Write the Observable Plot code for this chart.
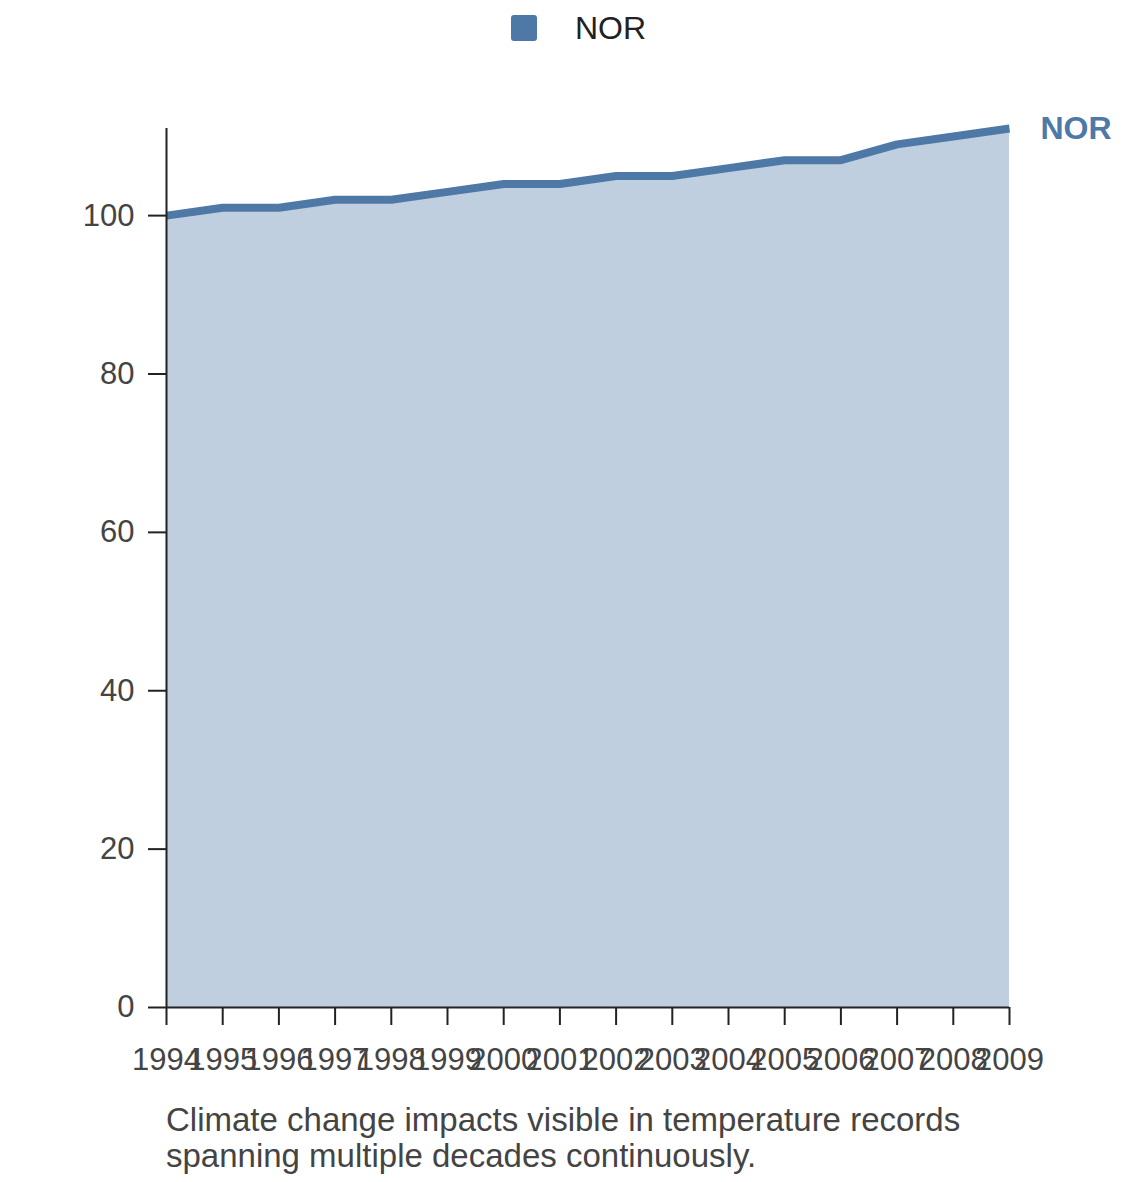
<!DOCTYPE html>
<html>
<head>
<meta charset="utf-8">
<script src="https://cdn.jsdelivr.net/npm/d3@7"></script>
<script src="https://cdn.jsdelivr.net/npm/@observablehq/plot@0.6"></script>
<style>
  body { margin: 0; background: #fff; font-family: "Liberation Sans", Arial, sans-serif; }
  #legend { height: 60px; display: flex; justify-content: center; align-items: flex-start; box-sizing: border-box; padding-left: 17px; }
  #legend .item { display: flex; align-items: center; margin-top: 13px; }
  #legend .sw { width: 26px; height: 26px; border-radius: 3px; background: #4e79a7; margin-right: 38px; }
  #legend .lb { font-size: 32px; color: #222; line-height: 30px; }
  #chart svg g[aria-label="x-axis tick label"] text,
  #chart svg g[aria-label="y-axis tick label"] text { fill: #444; }
  #caption { padding-left: 166px; font-size: 33px; line-height: 36px; color: #444; padding-top: 2px; }
</style>
</head>
<body>
<div id="legend"><div class="item"><div class="sw"></div><div class="lb">NOR</div></div></div>
<div id="chart"></div>
<div id="caption">Climate change impacts visible in temperature records<br>spanning multiple decades continuously.</div>
<script>
const series = "NOR";
const years = [1994, 1995, 1996, 1997, 1998, 1999, 2000, 2001, 2002, 2003, 2004, 2005, 2006, 2007, 2008, 2009];
const values = [100, 101, 101, 102, 102, 103, 104, 104, 105, 105, 106, 107, 107, 109, 110, 111];
const yTicks = [0, 20, 40, 60, 80, 100];

const data = years.map((y, i) => ({year: y, value: values[i], series}));
const color = "#4e79a7";

const chart = Plot.plot({
  width: 1140,
  height: 1040,
  marginLeft: 166,
  marginRight: 131,
  marginTop: 68,
  marginBottom: 93,
  style: {fontFamily: "'Liberation Sans', Arial, sans-serif", color: "#222", background: "#fff"},
  x: {type: "linear", domain: [1994, 2009]},
  y: {domain: [0, 111]},
  marks: [
    Plot.areaY(data, {x: "year", y: "value", fill: color, fillOpacity: 0.355}),
    Plot.lineY(data, {x: "year", y: "value", stroke: color, strokeWidth: 8, strokeLinecap: "butt"}),
    Plot.ruleX([1994], {y1: 0, y2: 111, stroke: "#222", strokeWidth: 2}),
    Plot.ruleY([0], {stroke: "#222", strokeWidth: 2}),
    Plot.axisY({ticks: yTicks, tickSize: 18, tickPadding: 14, fontSize: 31, strokeWidth: 2, label: null, tickFormat: d => d}),
    Plot.axisX({ticks: years, tickSize: 18, tickPadding: 22, fontSize: 31, strokeWidth: 2, label: null, tickFormat: d3.format("d")}),
    Plot.text(data.slice(-1), {x: "year", y: "value", text: "series", dx: 31, textAnchor: "start", fill: color, fontSize: 32, fontWeight: "bold"})
  ]
});
document.getElementById("chart").appendChild(chart);
</script>
</body>
</html>
